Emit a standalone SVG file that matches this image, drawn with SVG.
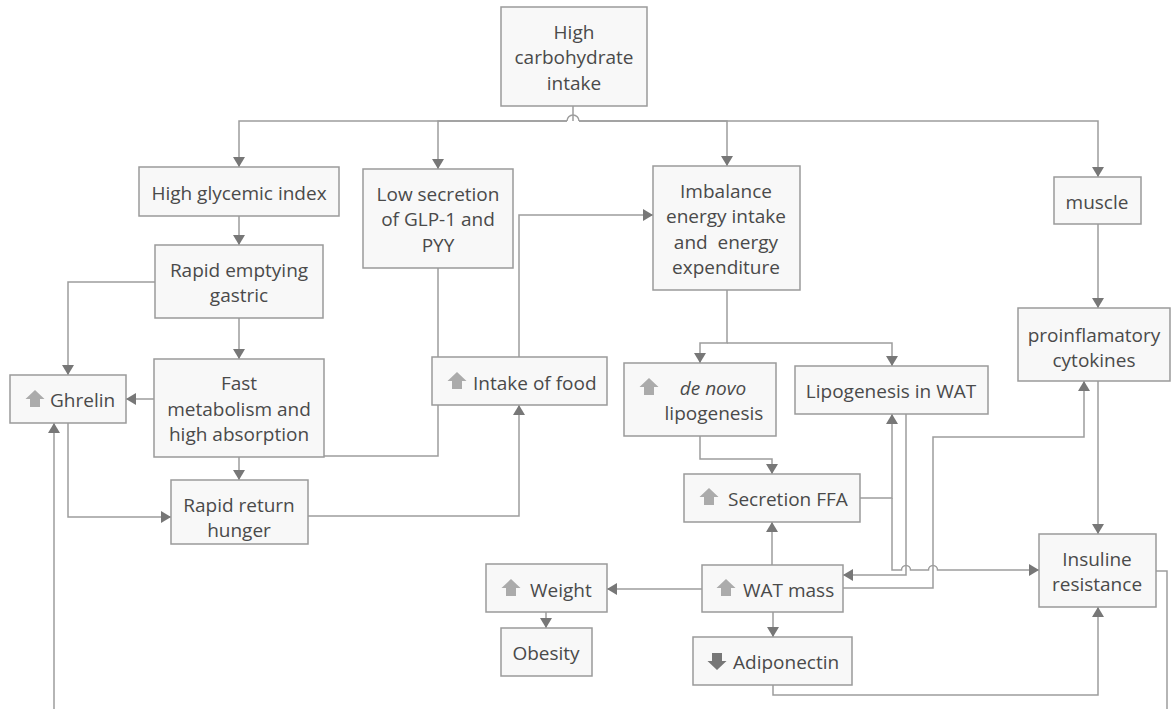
<svg xmlns="http://www.w3.org/2000/svg" xmlns:xlink="http://www.w3.org/1999/xlink" width="1172" height="709" viewBox="0 0 1172 709">
<style>
.box{fill:#f8f8f8;stroke:#9a9a9a;stroke-width:1.5}
.t{font-family:"Open Sans","Noto Sans","Liberation Sans",sans-serif;font-size:19px;fill:#4a4a4a}
.c{text-anchor:middle}
.ln{fill:none;stroke:#9d9d9d;stroke-width:1.5}
.ar{marker-end:url(#ah)}
.up{fill:#ababab}
.dn{fill:#777}
</style>
<defs>
<marker id="ah" viewBox="0 0 10 12" refX="10" refY="6" markerWidth="10" markerHeight="12" markerUnits="userSpaceOnUse" orient="auto"><path d="M0,0 L10,6 L0,12 z" fill="#777"/></marker>
<polygon id="upic" points="0,-9 9.5,0 5,0 5,8 -5,8 -5,0 -9.5,0"/>
<polygon id="dnic" points="0,9 9.5,0 5,0 5,-8 -5,-8 -5,0 -9.5,0"/>
</defs>
<rect width="1172" height="709" fill="#ffffff"/>
<g id="connectors">
<path class="ln" d="M573,106 V121"/>
<path class="ln" d="M567,121 A6,6 0 0 1 579,121"/>
<path class="ln ar" d="M567,121 H239 V167"/>
<path class="ln ar" d="M567,121 H438 V169"/>
<path class="ln ar" d="M579,121 H727 V166"/>
<path class="ln ar" d="M579,121 H1098 V177"/>
<path class="ln ar" d="M239,216 V245"/>
<path class="ln ar" d="M155,282 H68 V375"/>
<path class="ln ar" d="M239,318 V359"/>
<path class="ln ar" d="M154,399 H126"/>
<path class="ln ar" d="M239,457 V480"/>
<path class="ln ar" d="M68,423 V517 H171"/>
<path class="ln ar" d="M1156,571 H1167 V720 H54 V423"/>
<path class="ln" d="M324,456 H438 V268"/>
<path class="ln ar" d="M308,516 H519 V405"/>
<path class="ln ar" d="M519,357 V215 H653"/>
<path class="ln ar" d="M727,290 V343 H700 V363"/>
<path class="ln ar" d="M727,343 H892 V366"/>
<path class="ln ar" d="M700,436 V459 H772 V474"/>
<path class="ln ar" d="M860,498 H892 V414"/>
<path class="ln ar" d="M892,498 V570 H901.5 A4.5,4.5 0 0 1 910.5,570 H928.5 A4.5,4.5 0 0 1 937.5,570 H1039"/>
<path class="ln ar" d="M906,414 V575 H843"/>
<path class="ln ar" d="M843,588 H933 V437 H1084 V381"/>
<path class="ln ar" d="M772,565 V522"/>
<path class="ln ar" d="M702,589 H607"/>
<path class="ln ar" d="M546,612 V628"/>
<path class="ln ar" d="M773,612 V637"/>
<path class="ln ar" d="M773,685 V695 H1098 V607"/>
<path class="ln ar" d="M1098,224 V308"/>
<path class="ln ar" d="M1098,381 V534"/>
</g>
<g id="n_top"><rect class="box" x="501" y="7" width="146" height="99"/>
<text class="t c" x="574" y="39">High</text><text class="t c" x="574" y="64">carbohydrate</text><text class="t c" x="574" y="90">intake</text></g>
<g id="n_hgi"><rect class="box" x="139" y="167" width="200" height="49"/><text class="t c" x="239" y="200">High glycemic index</text></g>
<g id="n_low"><rect class="box" x="363" y="169" width="150" height="99"/>
<text class="t c" x="438" y="201">Low secretion</text><text class="t c" x="438" y="226">of GLP-1 and</text><text class="t c" x="438" y="252">PYY</text></g>
<g id="n_imb"><rect class="box" x="653" y="166" width="147" height="124"/>
<text class="t c" x="726" y="198">Imbalance</text><text class="t c" x="726" y="223">energy intake</text><text class="t c" x="726" y="249" xml:space="preserve">and  energy</text><text class="t c" x="726" y="274">expenditure</text></g>
<g id="n_muscle"><rect class="box" x="1054" y="177" width="87" height="47"/><text class="t c" x="1097" y="209">muscle</text></g>
<g id="n_rapid"><rect class="box" x="155" y="245" width="168" height="73"/>
<text class="t c" x="239" y="277">Rapid emptying</text><text class="t c" x="239" y="302">gastric</text></g>
<g id="n_ghrelin"><rect class="box" x="10" y="375" width="116" height="48"/><use href="#upic" class="up" x="35" y="399"/><text class="t" x="50" y="407">Ghrelin</text></g>
<g id="n_fast"><rect class="box" x="154" y="359" width="170" height="98"/>
<text class="t c" x="239" y="390">Fast</text><text class="t c" x="239" y="416">metabolism and</text><text class="t c" x="239" y="441">high absorption</text></g>
<g id="n_return"><rect class="box" x="171" y="480" width="137" height="64"/>
<text class="t c" x="239" y="512">Rapid return</text><text class="t c" x="239" y="537">hunger</text></g>
<g id="n_intake"><rect class="box" x="432" y="357" width="175" height="48"/><use href="#upic" class="up" x="457" y="381"/><text class="t" x="473" y="390">Intake of food</text></g>
<g id="n_denovo"><rect class="box" x="624" y="363" width="152" height="73"/><use href="#upic" class="up" x="649" y="387"/>
<text class="t c" x="713" y="395" font-style="italic">de novo</text><text class="t c" x="714" y="420">lipogenesis</text></g>
<g id="n_lipo"><rect class="box" x="795" y="366" width="193" height="48"/><text class="t c" x="891" y="398">Lipogenesis in WAT</text></g>
<g id="n_ffa"><rect class="box" x="684" y="474" width="176" height="48"/><use href="#upic" class="up" x="709" y="497"/><text class="t" x="728" y="506">Secretion FFA</text></g>
<g id="n_pro"><rect class="box" x="1018" y="308" width="152" height="73"/>
<text class="t c" x="1094" y="342">proinflamatory</text><text class="t c" x="1094" y="367">cytokines</text></g>
<g id="n_ins"><rect class="box" x="1039" y="534" width="117" height="73"/>
<text class="t c" x="1097" y="566">Insuline</text><text class="t c" x="1097" y="591">resistance</text></g>
<g id="n_weight"><rect class="box" x="486" y="564" width="121" height="48"/><use href="#upic" class="up" x="511" y="588"/><text class="t" x="530" y="597">Weight</text></g>
<g id="n_wat"><rect class="box" x="702" y="565" width="141" height="47"/><use href="#upic" class="up" x="726" y="588"/><text class="t" x="743" y="597">WAT mass</text></g>
<g id="n_obesity"><rect class="box" x="501" y="628" width="91" height="48"/><text class="t c" x="546" y="660">Obesity</text></g>
<g id="n_adipo"><rect class="box" x="693" y="637" width="159" height="48"/><use href="#dnic" class="dn" x="717" y="661"/><text class="t" x="733" y="669">Adiponectin</text></g>
</svg>
